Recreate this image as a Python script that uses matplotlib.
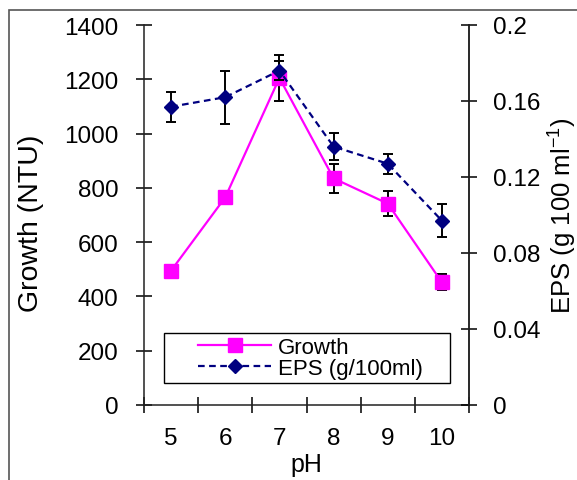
"""Growth and EPS production versus pH."""

import matplotlib

matplotlib.use("Agg")
import matplotlib.pyplot as plt
from matplotlib.lines import Line2D
from matplotlib.patches import Rectangle
from matplotlib.ticker import FixedLocator

plt.rcParams["font.family"] = ["Liberation Sans", "DejaVu Sans"]

ph = [5, 6, 7, 8, 9, 10]
growth = [495, 765, 1205, 835, 742, 452]
growth_err = [10, 25, 85, 54, 46, 30]
eps = [0.157, 0.162, 0.176, 0.136, 0.127, 0.097]
eps_err = [0.008, 0.014, 0.005, 0.007, 0.0053, 0.0088]

W, H = 577, 481
GROWTH_C = "#ff00ff"
EPS_C = "#000080"
EPS_LS = (0, (3, 2))

fig = plt.figure(figsize=(W / 100, H / 100), dpi=100)
ax = fig.add_axes([144 / W, 1 - 406 / H, 325 / W, 380 / H])
ax2 = ax.twinx()

# frame round the whole picture
fig.patches.append(Rectangle((9 / W, -0.1), 1.2, 1 - 11 / H + 0.1, transform=fig.transFigure,
                             fill=False, edgecolor="#555555", linewidth=1.2))

ax.errorbar(ph, growth, yerr=growth_err, color=GROWTH_C, lw=1.6, marker="s", ms=10,
            ecolor="black", elinewidth=1.4, capsize=3.5, capthick=1.4, zorder=3)
ax2.errorbar(ph, eps, yerr=eps_err, color=EPS_C, lw=1.6, ls=EPS_LS, marker="D", ms=7,
             ecolor="black", elinewidth=1.4, capsize=3.5, capthick=1.4, zorder=3)

ax.set_xlim(4.5, 10.5)
ax.set_ylim(0, 1400)
ax2.set_ylim(0, 0.2)

ax.set_xticks(ph)
ax.set_xticklabels([str(p) for p in ph])
ax.xaxis.set_minor_locator(FixedLocator([4.5 + i for i in range(7)]))
ax.tick_params(axis="x", which="major", length=0, pad=16, labelsize=17.5)
ax.tick_params(axis="x", which="minor", direction="inout", length=11, width=1.1)
ax.set_yticks(range(0, 1401, 200))
ax.tick_params(axis="y", direction="inout", length=11, width=1.1, labelsize=17.5, pad=13)
ax2.set_yticks([0, 0.04, 0.08, 0.12, 0.16, 0.2])
ax2.set_yticklabels(["0", "0.04", "0.08", "0.12", "0.16", "0.2"])
ax2.tick_params(axis="y", direction="inout", length=11, width=1.1, labelsize=17.5, pad=12)

for a in (ax, ax2):
    a.spines["top"].set_visible(False)
    for s in a.spines.values():
        s.set_linewidth(1.1)
        s.set_color("#222222")
ax2.spines["left"].set_visible(False)
ax2.spines["bottom"].set_visible(False)

fig.text(306 / W, 1 - 465 / H, "pH", fontsize=18, ha="center", va="center")
fig.text(31 / W, 1 - 223 / H, "Growth (NTU)", fontsize=20.5, rotation=90, ha="center", va="center")
fig.text(562 / W, 1 - 216 / H, "EPS (g 100 ml$^{\\mathregular{-1}}$)", fontsize=18.5, rotation=90,
         ha="center", va="center")

# legend box drawn separately so the entries can sit indented inside it
ax2.add_patch(Rectangle((0.0615, 0.058), 0.88, 0.131, transform=ax2.transAxes,
                        facecolor="white", edgecolor="black", linewidth=1.0, zorder=4))
handles = [
    Line2D([], [], color=GROWTH_C, lw=1.6, marker="s", ms=10),
    Line2D([], [], color=EPS_C, lw=1.6, ls=EPS_LS, marker="D", ms=7),
]
leg = ax2.legend(handles, ["Growth", "EPS (g/100ml)"], loc="center left",
                 bbox_to_anchor=(0.166, 0.124), fontsize=16, frameon=False,
                 handlelength=3.3, handletextpad=0.3, borderpad=0, labelspacing=0.0,
                 borderaxespad=0)
leg.set_zorder(5)

fig.savefig("out.png", dpi=100)
